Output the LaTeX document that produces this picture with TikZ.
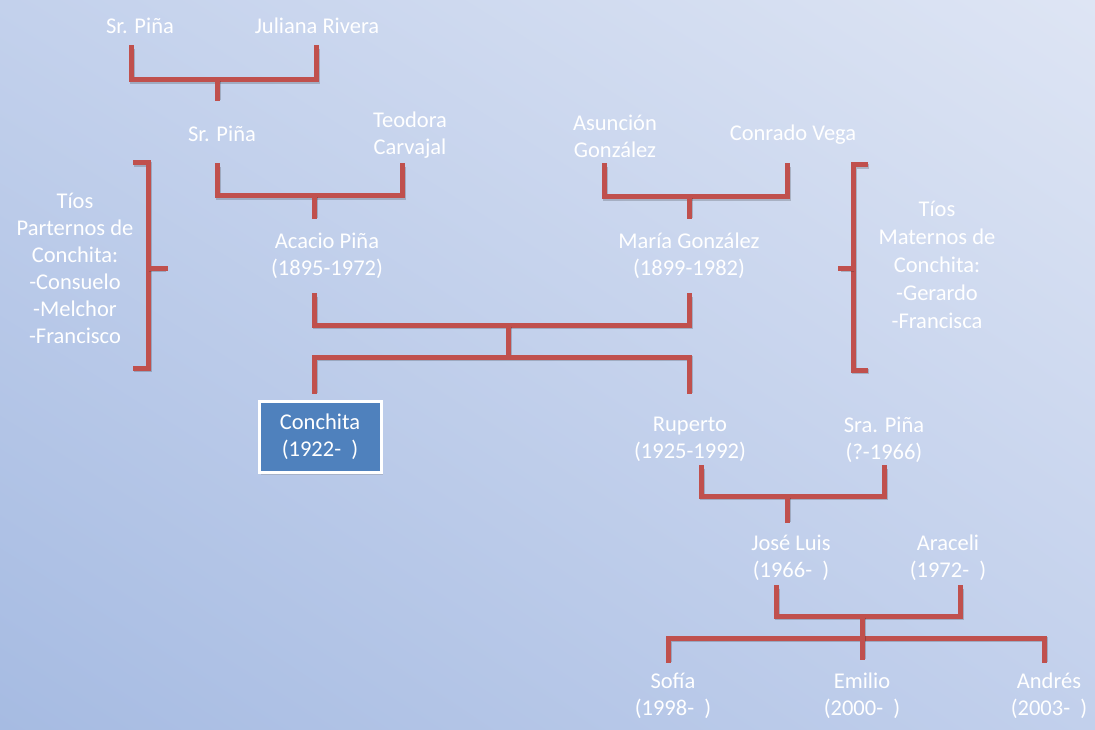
\documentclass[tikz,border=0pt]{standalone}
\usepackage{fontspec}
\setmainfont{Carlito}
\usetikzlibrary{shadows,shadings}
\definecolor{bgTL}{HTML}{C3D1EC}
\definecolor{bgTR}{HTML}{DEE5F4}
\definecolor{bgBL}{HTML}{A6BBE2}
\definecolor{bgBR}{HTML}{C2D0EC}
\definecolor{linkred}{HTML}{C0504D}
\definecolor{boxblue}{HTML}{4F81BD}
\begin{document}
\begin{tikzpicture}[x=1pt,y=-1pt,
  lbl/.style={text=white,font=\fontsize{22.5}{27}\selectfont,align=center,inner sep=0pt},
  link/.style={draw=linkred,line width=5pt,line join=miter,line cap=rect,
    preaction={draw=black,opacity=0.18,line width=5pt,transform canvas={xshift=1pt,yshift=-1.5pt}}},
  pbox/.style={draw=white,line width=3pt,fill=boxblue,minimum width=122pt,minimum height=71pt,
    drop shadow={opacity=0.3,shadow xshift=1.5pt,shadow yshift=-2pt}}]
\useasboundingbox (0,0) rectangle (1095,730);
\shade[upper left=bgTL,upper right=bgTR,lower left=bgBL,lower right=bgBR] (0,0) rectangle (1095,730);

% names
\node[lbl] (srp1) at (140,26) {Sr. Piña};
\node[lbl] (jul) at (317,26) {Juliana Rivera};
\node[lbl] (srp2) at (222,134) {Sr. Piña};
\node[lbl] (teo) at (410,135.5) {Teodora\\Carvajal};
\node[lbl] (asu) at (615,136) {Asunción\\González};
\node[lbl] (con) at (793,135) {Conrado Vega};
\node[lbl] (aca) at (327,255.5) {Acacio Piña\\(1895-1972)};
\node[lbl] (mar) at (689,255.5) {María González\\(1899-1982)};
\node[pbox,lbl,inner sep=0pt] (cha) at (320,437) {Conchita\\(1922-\ \ )};
\node[lbl] (rup) at (690,439.5) {Ruperto\\(1925-1992)};
\node[lbl] (sra) at (884,439.5) {Sra. Piña\\(?-1966)};
\node[lbl] (jos) at (791,557.5) {José Luis\\(1966-\ \ )};
\node[lbl] (ara) at (948,557.5) {Araceli\\(1972-\ \ )};
\node[lbl] (sof) at (673,695.5) {Sofía\\(1998-\ \ )};
\node[lbl] (emi) at (862,695.5) {Emilio\\(2000-\ \ )};
\node[lbl] (and) at (1049,695.5) {Andrés\\(2003-\ \ )};
\node[lbl] (tp) at (75,268) {Tíos\\Parternos de\\Conchita:\\-Consuelo\\-Melchor\\-Francisco};
\node[lbl,font=\fontsize{22.5}{28}\selectfont] (tm) at (937,265) {Tíos\\Maternos de\\Conchita:\\-Gerardo\\-Francisca};

% generation 1
\draw[link] (131,48) |- (316,80) -- (316,48);
\draw[link] (217,80) -- (217,99);
% generation 2
\draw[link] (217,166) |- (402,196) -- (402,166);
\draw[link] (314,196) -- (314,217);
\draw[link] (604,166) |- (787,197) -- (787,166);
\draw[link] (689,197) -- (689,217);
% parents
\draw[link] (314,295) |- (689,325) -- (689,295);
\draw[link] (508,325) -- (508,357);
\draw[link] (314,391) |- (689,357) -- (689,391);
% Ruperto
\draw[link] (701,467) |- (884,496) -- (884,467);
\draw[link] (787,496) -- (787,520);
% Jose Luis
\draw[link] (776,587) |- (960,616) -- (960,587);
\draw[link] (668,660) |- (1044,638) -- (1044,660);
\draw[link] (862,616) -- (862,657);
% braces
\draw[link,line cap=butt] (133,163) -- (148,163) -- (148,368) -- (133,368);
\draw[link] (148,268) -- (165,268);
\draw[link,line cap=butt] (868,165) -- (853,165) -- (853,370) -- (868,370);
\draw[link] (853,268) -- (840,268);
\end{tikzpicture}
\end{document}
